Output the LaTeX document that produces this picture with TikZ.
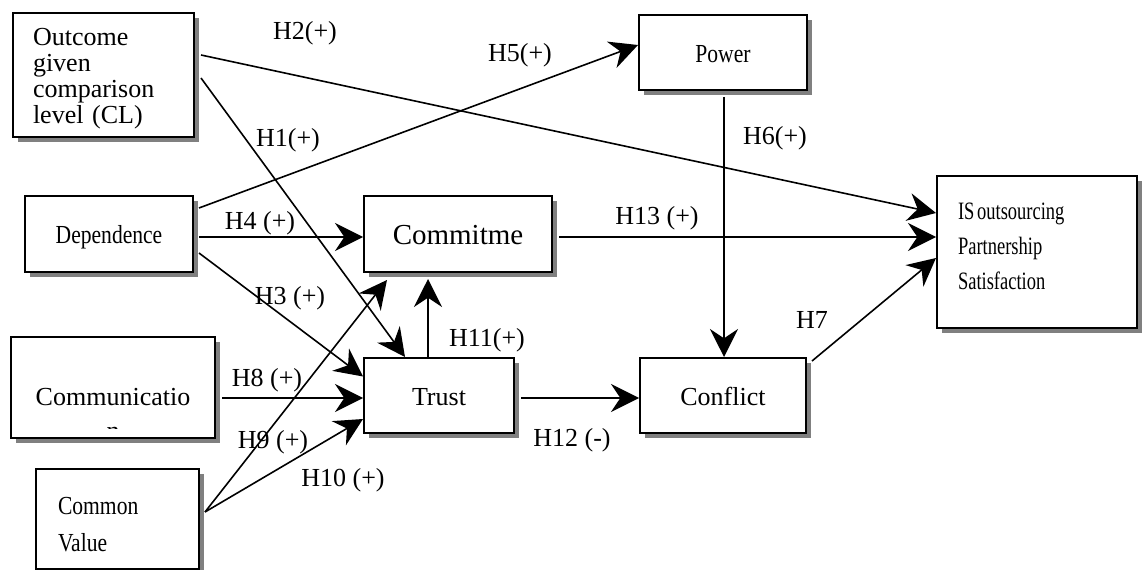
\documentclass[tikz,border=0pt]{standalone}
\usepackage{fontspec}
\setmainfont{Liberation Serif}
\newfontfamily\narrowfont[FakeStretch=0.83]{Liberation Serif}
\newfontfamily\narrowerfont[FakeStretch=0.74]{Liberation Serif}
\usetikzlibrary{arrows.meta,shadows}
\begin{document}
\begin{tikzpicture}[x=0.75pt,y=-0.75pt,
  font=\fontsize{19.5}{19.5}\selectfont,
  factor/.style={draw, line width=1.5pt, fill=white, inner sep=0pt,
    drop shadow={shadow xshift=3.75pt, shadow yshift=-3.75pt, opacity=1, fill=black!50}},
  oneline/.style={text height=15pt, text depth=0pt},
  narrow/.style={font=\narrowfont\fontsize{19.5}{27.75}\selectfont},
  link/.style={line width=1.2pt, -{Stealth[length=21pt, width=21pt, inset=7pt]}},
  hyp/.style={inner sep=0pt}]
\useasboundingbox (0,0) rectangle (1142,570);
\clip (0,0) rectangle (1142,570);

%Boxes
\node[factor, minimum width=135.75pt, minimum height=93pt, text width=105.75pt, align=left] (outcome) at (103.5,75) {\rule{0pt}{18.2pt}Outcome\\given\\comparison\\level (CL)};
\node[factor, oneline, narrow, minimum width=126pt, minimum height=57pt] (dependence) at (109,234) {Dependence};
\node[factor, minimum width=153pt, minimum height=75.75pt, text height=26.25pt, text depth=0pt] (communication) at (113,387.5) {Communicatio};
\node[factor, narrow, minimum width=122.25pt, minimum height=75pt, text width=89.25pt, align=left] (value) at (117.5,519) {\rule{0pt}{21pt}Common\\Value};
\node[factor, minimum width=141pt, minimum height=57pt, text height=16.5pt, text depth=0pt, font=\fontsize{21.75}{21.75}\selectfont] (commitment) at (458,234) {Commitme};
\node[factor, oneline, minimum width=112.5pt, minimum height=56.25pt] (trust) at (439,395.5) {Trust};
\node[factor, oneline, narrow, minimum width=126pt, minimum height=56.25pt] (power) at (723,52.5) {Power};
\node[factor, oneline, minimum width=124.5pt, minimum height=56.25pt] (conflict) at (723,395.5) {Conflict};
\node[factor, minimum width=150pt, minimum height=114pt, text width=118.5pt, align=left, font=\narrowerfont\fontsize{18.75}{26.25}\selectfont] (satisfaction) at (1037,252) {IS\kern2pt outsourcing\\Partnership\\Satisfaction\rule[-8.25pt]{0pt}{8.25pt}};

%cut off last letter
\begin{scope}
\clip ([shift={(0,-11)}]communication.south west) rectangle (communication.north east);
\node[anchor=base, inner sep=0pt] (commcut) at (communication.south) {n};
\end{scope}

%Arrows
\draw[link] ([shift={(6,-20)}]outcome.east) -- ([shift={(0,-39)}]satisfaction.west);
\draw[link] ([shift={(6,3)}]outcome.east) -- ([shift={(-34,0)}]trust.north);
\draw[link] ([shift={(5,-26)}]dependence.east) -- ([shift={(0,-7.5)}]power.west);
\draw[link] ([shift={(5,3)}]dependence.east) -- ([shift={(0,3)}]commitment.west);
\draw[link] ([shift={(5,19)}]dependence.east) -- ([shift={(0,-19)}]trust.west);
\draw[link] ([shift={(6,10.5)}]communication.east) -- ([shift={(0,2.5)}]trust.west);
\draw[link] ([shift={(5,-7)}]value.east) -- ([shift={(-71,7)}]commitment.south);
\draw[link] ([shift={(5,-7)}]value.east) -- ([shift={(0,23.5)}]trust.west);
\draw[link] ([shift={(-11,0)}]trust.north) -- ([shift={(-30,6)}]commitment.south);
\draw[link] ([shift={(6,2.5)}]trust.east) -- ([shift={(0,2.5)}]conflict.west);
\draw[link] ([shift={(1,6)}]power.south) -- ([shift={(1,0)}]conflict.north);
\draw[link] ([shift={(6,3)}]commitment.east) -- ([shift={(0,-15)}]satisfaction.west);
\draw[link] ([shift={(5,4)}]conflict.north east) -- ([shift={(0,6)}]satisfaction.west);

%Hypothesis labels
\node[hyp] (h1) at (288,140) {H1(+)};
\node[hyp] (h2) at (305,33) {H2(+)};
\node[hyp] (h3) at (290,298) {H3 (+)};
\node[hyp] (h4) at (260,223) {H4 (+)};
\node[hyp] (h5) at (520,55) {H5(+)};
\node[hyp] (h6) at (775,138) {H6(+)};
\node[hyp] (h7) at (812,320) {H7};
\node[hyp] (h8) at (267,380) {H8 (+)};
\node[hyp] (h9) at (273,442) {H9 (+)};
\node[hyp] (h10) at (343,480) {H10 (+)};
\node[hyp] (h11) at (487,340) {H11(+)};
\node[hyp] (h12) at (572,440) {H12 (-)};
\node[hyp] (h13) at (657,218) {H13 (+)};

\end{tikzpicture}
\end{document}
